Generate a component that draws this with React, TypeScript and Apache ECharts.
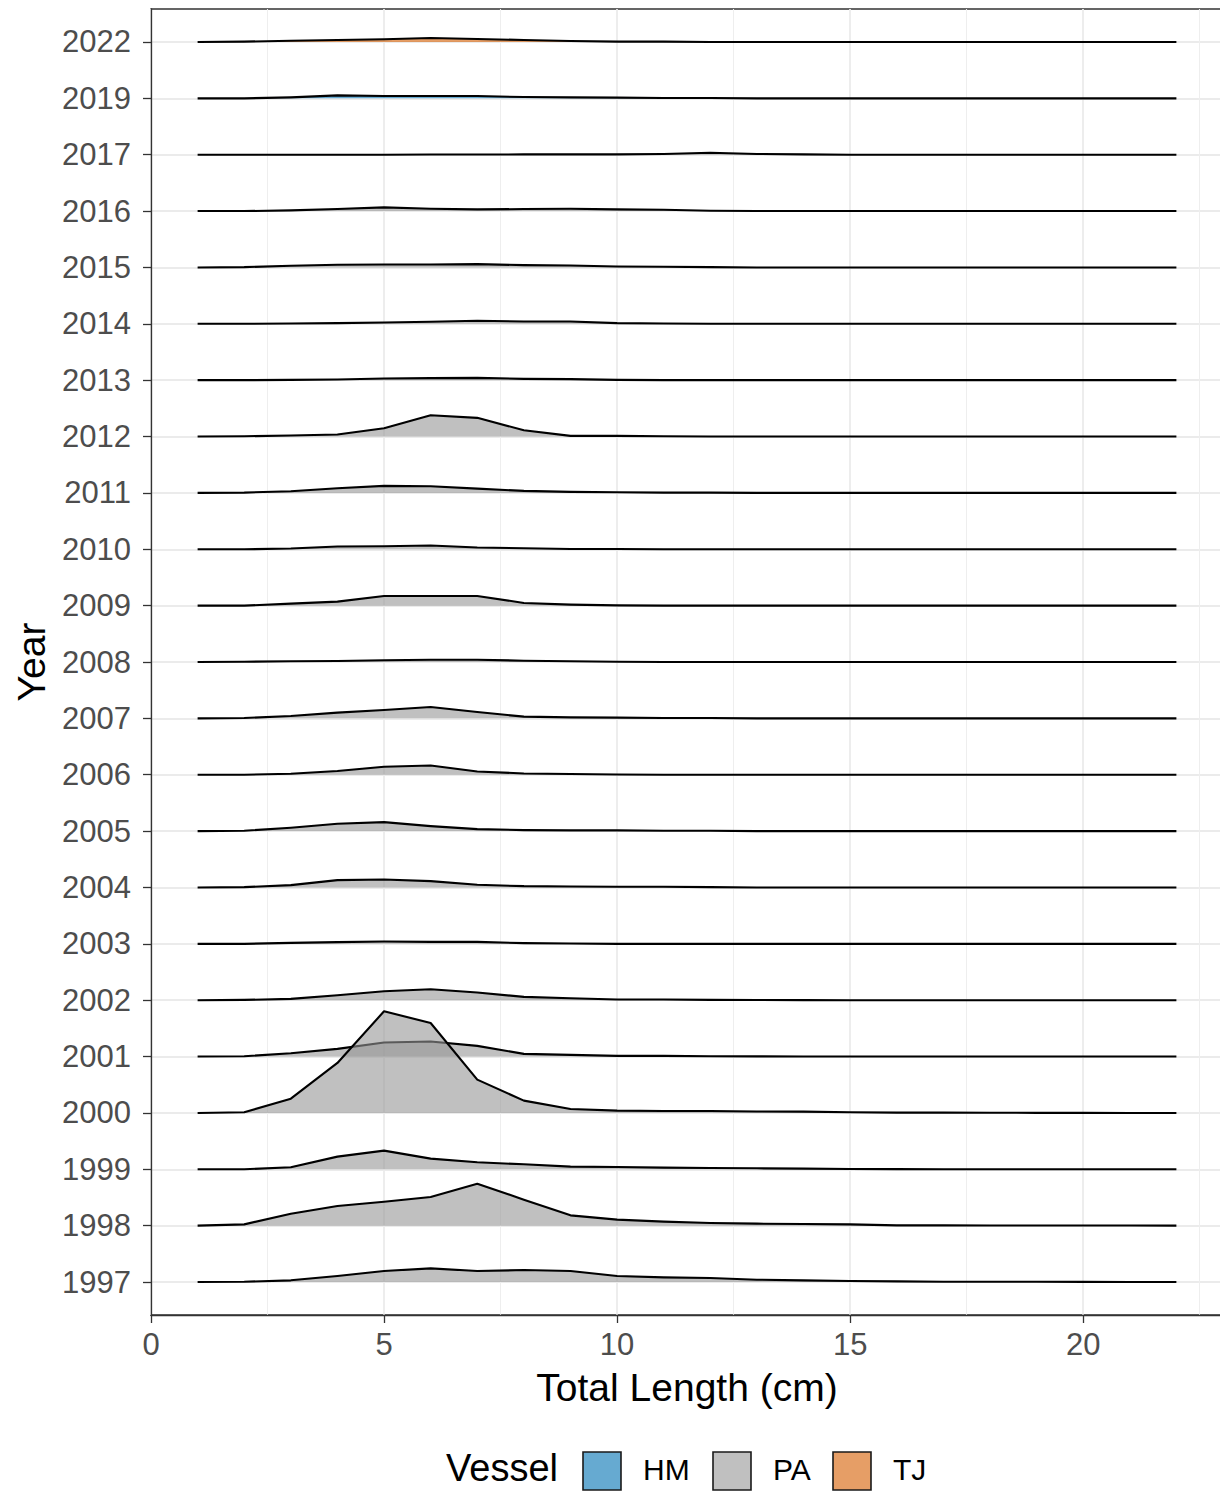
import React, { useEffect, useRef } from "react";
import * as echarts from "echarts";

// ---- data ----
const YEARS = [
  "1997", "1998", "1999", "2000", "2001", "2002", "2003", "2004", "2005", "2006", "2007", "2008",
  "2009", "2010", "2011", "2012", "2013", "2014", "2015", "2016", "2017", "2019", "2022",
];
const VESSEL_OF_YEAR = [
  "PA", "PA", "PA", "PA", "PA", "PA", "PA", "PA", "PA", "PA", "PA", "PA",
  "PA", "PA", "PA", "PA", "PA", "PA", "PA", "PA", "PA", "HM", "TJ",
];
const VESSELS = ["HM", "PA", "TJ"];
const LENGTHS = [1, 2, 3, 4, 5, 6, 7, 8, 9, 10, 11, 12, 13, 14, 15, 16, 17, 18, 19, 20, 21, 22];
const X_TICKS = [0, 5, 10, 15, 20];
const X_MINOR = [2.5, 7.5, 12.5, 17.5, 22.5];

// relative density at each length (1 cm bins)
const h1997 = [0, 0.3, 1.7, 6, 11, 13.7, 11, 12, 11, 6, 4.7, 4, 2.3, 1.7, 1, 0.7, 0.3, 0.3, 0.3, 0.2, 0.1, 0];
const h1998 = [0, 1.3, 12, 19.7, 24, 28.7, 42, 26, 10.3, 6, 4, 2.7, 2, 1.7, 1.3, 0.3, 0.3, 0.2, 0.2, 0.1, 0.1, 0];
const h1999 = [0, 0, 2, 12.7, 18.7, 10.7, 7, 5, 2.7, 2.3, 1.7, 1.3, 1, 0.7, 0.3, 0.2, 0.1, 0.1, 0, 0, 0, 0];
const h2000 = [0, 0.7, 14.3, 50, 101.7, 90, 33.3, 12.3, 4, 2.3, 2, 2, 1.5, 1.3, 0.7, 0.3, 0.3, 0.2, 0.1, 0.1, 0, 0];
const h2001 = [0, 0.3, 3.3, 7.7, 14, 15, 10.7, 2.7, 1.7, 0.7, 0.7, 0.3, 0.2, 0.1, 0, 0, 0, 0, 0, 0, 0, 0];
const h2002 = [0, 0.3, 1.3, 5, 9, 11, 7.7, 3.3, 2, 0.7, 0.7, 0.3, 0.2, 0.1, 0, 0, 0, 0, 0, 0, 0, 0];
const h2003 = [0, 0, 1, 1.7, 2.3, 2, 2, 0.7, 0.3, 0, 0, 0, 0, 0, 0, 0, 0, 0, 0, 0, 0, 0];
const h2004 = [0, 0.3, 2.3, 7.3, 8, 6.3, 2.7, 1.3, 1, 0.7, 0.7, 0.3, 0, 0, 0, 0, 0, 0, 0, 0, 0, 0];
const h2005 = [0, 0.3, 3.3, 7.3, 9, 5, 2, 1, 0.7, 0.7, 0.3, 0.3, 0, 0, 0, 0, 0, 0, 0, 0, 0, 0];
const h2006 = [0, 0, 1, 3.7, 8, 9.3, 3.3, 1.3, 0.7, 0.3, 0, 0, 0, 0, 0, 0, 0, 0, 0, 0, 0, 0];
const h2007 = [0, 0.3, 2.3, 5.7, 8.3, 11.3, 6.3, 1.7, 1, 0.7, 0.3, 0.3, 0, 0, 0, 0, 0, 0, 0, 0, 0, 0];
const h2008 = [0, 0.3, 0.7, 1, 1.7, 2.3, 2.3, 1.3, 0.7, 0.3, 0, 0, 0, 0, 0, 0, 0, 0, 0, 0, 0, 0];
const h2009 = [0, 0, 2, 4, 9.7, 9.7, 9.7, 2.7, 1, 0.3, 0, 0, 0, 0, 0, 0, 0, 0, 0, 0, 0, 0];
const h2010 = [0, 0, 0.7, 2.7, 3, 3.7, 1.7, 1, 0.3, 0.3, 0, 0, 0, 0, 0, 0, 0, 0, 0, 0, 0, 0];
const h2011 = [0, 0.3, 1.7, 4.7, 7, 6.7, 4.3, 2, 1, 0.7, 0.3, 0.3, 0, 0, 0, 0, 0, 0, 0, 0, 0, 0];
const h2012 = [0, 0.3, 1, 2, 8.3, 21.3, 18.7, 6.3, 0.7, 0.7, 0.3, 0, 0, 0, 0, 0, 0, 0, 0, 0, 0, 0];
const h2013 = [0, 0, 0.3, 0.7, 1.7, 2, 2.3, 1.3, 1, 0.3, 0, 0, 0, 0, 0, 0, 0, 0, 0, 0, 0, 0];
const h2014 = [0, 0, 0.3, 0.7, 1.3, 2, 3, 2.3, 2.3, 0.7, 0.3, 0, 0, 0, 0, 0, 0, 0, 0, 0, 0, 0];
const h2015 = [0, 0.3, 1.7, 2.7, 3, 3, 3.3, 2.3, 2, 1, 0.7, 0.3, 0, 0, 0, 0, 0, 0, 0, 0, 0, 0];
const h2016 = [0, 0, 0.7, 2, 3.7, 2.3, 1.7, 2, 2.3, 1.7, 1.3, 0.3, 0, 0, 0, 0, 0, 0, 0, 0, 0, 0];
const h2017 = [0, 0, 0, 0, 0, 0.2, 0.2, 0.3, 0.3, 0.3, 0.7, 2, 0.7, 0.3, 0, 0, 0, 0, 0, 0, 0, 0];
const h2019 = [0, 0, 1, 3, 2.3, 2.3, 2.3, 1.3, 1, 0.7, 0.3, 0.3, 0, 0, 0, 0, 0, 0, 0, 0, 0, 0];
const h2022 = [0, 0.3, 1.3, 2, 2.7, 4, 3, 2, 1, 0.3, 0.3, 0, 0, 0, 0, 0, 0, 0, 0, 0, 0, 0];

const HEIGHTS = [
  h1997, h1998, h1999, h2000, h2001, h2002, h2003, h2004, h2005, h2006, h2007, h2008,
  h2009, h2010, h2011, h2012, h2013, h2014, h2015, h2016, h2017, h2019, h2022,
];

// ---- styling ----
const RIDGE_SCALE = 1 / 56.4;
const FILL: Record<string, string> = {
  HM: "rgba(0,114,178,0.6)",
  PA: "rgba(150,150,150,0.6)",
  TJ: "rgba(213,94,0,0.6)",
};
const FONT = "'Liberation Sans', Arial, Helvetica, sans-serif";

function buildOption() {
  const yIdx = YEARS.map((_, i) => i);
  const series = VESSELS.map((v) => {
    const data: number[][] = [];
    // top rows first so that lower ridges are drawn in front
    for (let i = YEARS.length - 1; i >= 0; i--) {
      if (VESSEL_OF_YEAR[i] === v) data.push([i, ...HEIGHTS[i]]);
    }
    return {
      type: "custom",
      name: v,
      silent: true,
      xAxisIndex: 0,
      yAxisIndex: 0,
      data,
      renderItem: (params: any, api: any) => {
        const yi = api.value(0);
        const pts: number[][] = [];
        for (let k = 0; k < LENGTHS.length; k++) {
          pts.push(api.coord([LENGTHS[k], yi + api.value(k + 1) * RIDGE_SCALE]));
        }
        const b0 = api.coord([LENGTHS[0], yi]);
        const b1 = api.coord([LENGTHS[LENGTHS.length - 1], yi]);
        return {
          type: "group",
          children: [
            {
              type: "polygon",
              shape: { points: [b0, ...pts, b1] },
              style: { fill: FILL[v], stroke: null },
            },
            {
              type: "polyline",
              shape: { points: pts },
              style: { stroke: "#000", lineWidth: 2.1, fill: null, lineJoin: "round" },
            },
          ],
        };
      },
    };
  });

  const legendY = 1452;
  const graphic: any[] = [
    {
      type: "text",
      left: 446,
      top: 1471 - 22,
      style: { text: "Vessel", font: `38px ${FONT}`, fill: "#000" },
    },
  ];
  const keyX = [583, 713, 833];
  const textX = [643, 773, 893];
  VESSELS.forEach((v, i) => {
    graphic.push({
      type: "rect",
      shape: { x: keyX[i], y: legendY, width: 38, height: 38 },
      style: { fill: FILL[v], stroke: "#1a1a1a", lineWidth: 1.6 },
    });
    graphic.push({
      type: "text",
      left: textX[i],
      top: 1471 - 17,
      style: { text: v, font: `30px ${FONT}`, fill: "#000" },
    });
  });

  return {
    animation: false,
    backgroundColor: "#fff",
    grid: {
      left: 151,
      top: 9,
      right: 17,
      bottom: 177,
      show: true,
      borderColor: "#333",
      borderWidth: 1.3,
      containLabel: false,
    },
    xAxis: [
      {
        type: "value",
        min: 0,
        max: 23,
        name: "Total Length (cm)",
        nameLocation: "middle",
        nameGap: 53,
        nameTextStyle: { fontSize: 39, color: "#000", fontFamily: FONT },
        axisLine: { show: true, onZero: false, lineStyle: { color: "#333", width: 1.3 } },
        axisTick: { show: true, length: 8, lineStyle: { color: "#333", width: 1.3 }, customValues: X_TICKS },
        axisLabel: {
          show: true,
          customValues: X_TICKS,
          margin: 14,
          fontSize: 31,
          color: "#4D4D4D",
          fontFamily: FONT,
        },
        splitLine: { show: true, lineStyle: { color: "#EBEBEB", width: 1.8 } },
      },
      {
        type: "value",
        min: 0,
        max: 23,
        position: "bottom",
        axisLine: { show: false, onZero: false },
        axisTick: { show: false, customValues: X_MINOR },
        axisLabel: { show: false, customValues: X_MINOR },
        splitLine: { show: true, lineStyle: { color: "#EEEEEE", width: 1.1 } },
      },
    ],
    yAxis: {
      type: "value",
      min: -0.585,
      max: 22.585,
      name: "Year",
      nameLocation: "middle",
      nameGap: 100,
      nameRotate: 90,
      nameTextStyle: { fontSize: 39, color: "#000", fontFamily: FONT },
      axisLine: { show: true, onZero: false, lineStyle: { color: "#333", width: 1.3 } },
      axisTick: { show: true, length: 8, lineStyle: { color: "#333", width: 1.3 }, customValues: yIdx },
      axisLabel: {
        show: true,
        customValues: yIdx,
        margin: 20,
        fontSize: 31,
        color: "#4D4D4D",
        fontFamily: FONT,
        formatter: (val: number) => YEARS[Math.round(val)] ?? "",
      },
      splitLine: { show: true, lineStyle: { color: "#EBEBEB", width: 1.8 } },
    },
    graphic,
    series,
  };
}

export default function App() {
  const ref = useRef<HTMLDivElement>(null);
  useEffect(() => {
    if (!ref.current) return;
    const chart = echarts.init(ref.current, undefined, { renderer: "svg" });
    chart.setOption(buildOption() as any);
    return () => chart.dispose();
  }, []);
  return (
    <div
      style={{
        position: "absolute",
        left: 0,
        top: 0,
        width: 1220,
        height: 1492,
        overflow: "hidden",
        background: "#fff",
      }}
    >
      <div ref={ref} style={{ width: 1240, height: 1492 }} />
    </div>
  );
}
